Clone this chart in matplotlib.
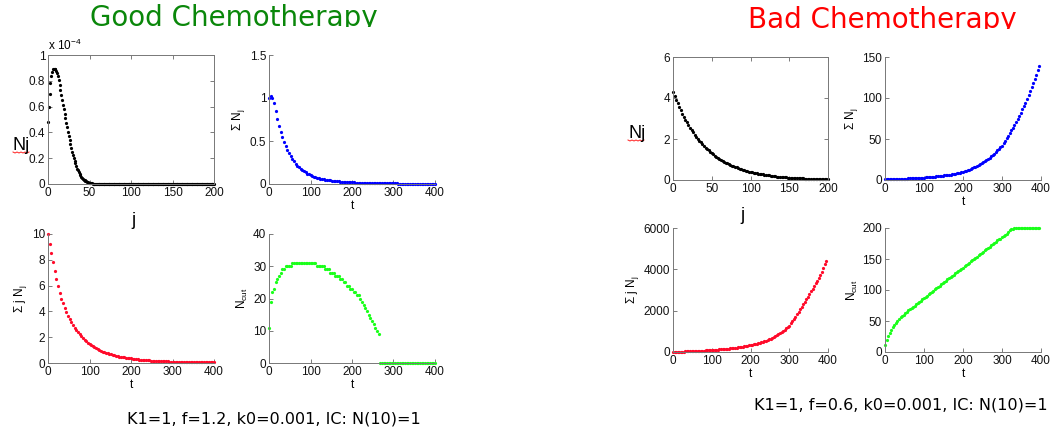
import numpy as np
import matplotlib
matplotlib.use('Agg')
import matplotlib.pyplot as plt
from matplotlib.ticker import FuncFormatter
from matplotlib.lines import Line2D

plt.rcParams['font.family'] = ['Liberation Sans', 'DejaVu Sans']
plt.rcParams['mathtext.fontset'] = 'custom'
plt.rcParams['mathtext.rm'] = 'Liberation Sans'
plt.rcParams['mathtext.it'] = 'Liberation Sans:italic'

# ---------------- data ----------------
dt = 4  # time step between dots

# Good chemotherapy: N_j at final time, units of 1e-4, j = 0, 1, 2, ...
good_nj = [0.48, 0.60, 0.70, 0.78, 0.84, 0.87, 0.89, 0.895, 0.895, 0.89, 0.875,
           0.86, 0.84, 0.81, 0.77, 0.73, 0.69, 0.65, 0.61, 0.58, 0.54,
           0.51, 0.47, 0.44, 0.40, 0.37, 0.34, 0.31, 0.28, 0.25, 0.225,
           0.20, 0.18, 0.16, 0.14, 0.12, 0.105, 0.09, 0.08, 0.068, 0.058,
           0.049, 0.041, 0.034, 0.029, 0.024, 0.02, 0.016, 0.013, 0.011, 0.009,
           0.007, 0.0058, 0.0046, 0.0037, 0.003, 0.0024, 0.0019, 0.0015, 0.0012, 0.001,
           0.0008, 0.0006, 0.0005, 0.0004, 0.0003] + [0.0] * 135

good_sum_n = [1.00, 1.02, 1.00, 0.94, 0.85, 0.76, 0.68, 0.61, 0.545, 0.49,
              0.44, 0.395, 0.355, 0.32, 0.29, 0.262, 0.237, 0.215, 0.195, 0.177,
              0.161, 0.147, 0.134, 0.122, 0.112, 0.103, 0.095, 0.087, 0.08, 0.074,
              0.068, 0.063, 0.058, 0.054, 0.050, 0.047, 0.044, 0.041, 0.038, 0.036,
              0.034, 0.032, 0.030, 0.028, 0.027, 0.025, 0.024, 0.023, 0.021, 0.020,
              0.019, 0.018, 0.017, 0.016, 0.016, 0.015, 0.014, 0.014, 0.013, 0.012,
              0.012, 0.011, 0.011, 0.010, 0.010, 0.009, 0.009, 0.009, 0.008, 0.008,
              0.008, 0.007, 0.007, 0.007, 0.006, 0.006, 0.006, 0.006, 0.005, 0.005,
              0.005, 0.005, 0.005, 0.004, 0.004, 0.004, 0.004, 0.004, 0.004, 0.003,
              0.003, 0.003, 0.003, 0.003, 0.003, 0.003, 0.003, 0.002, 0.002, 0.002,
              0.002]

good_sum_jn = [10.0, 9.25, 8.5, 7.8, 7.1, 6.5, 5.95, 5.45, 5.0, 4.62,
               4.26, 3.95, 3.67, 3.41, 3.17, 2.95, 2.75, 2.56, 2.39, 2.23,
               2.08, 1.94, 1.81, 1.69, 1.58, 1.48, 1.39, 1.30, 1.22, 1.14,
               1.07, 1.01, 0.95, 0.89, 0.84, 0.79, 0.75, 0.70, 0.66, 0.63,
               0.59, 0.56, 0.53, 0.50, 0.47, 0.45, 0.43, 0.40, 0.38, 0.36,
               0.35, 0.33, 0.31, 0.30, 0.28, 0.27, 0.26, 0.24, 0.23, 0.22,
               0.21, 0.20, 0.19, 0.18, 0.175, 0.167, 0.16, 0.15, 0.145, 0.14,
               0.13, 0.125, 0.12, 0.115, 0.11, 0.105, 0.10, 0.097, 0.093, 0.09,
               0.087, 0.084, 0.081, 0.078, 0.075, 0.072, 0.07, 0.068, 0.066, 0.064,
               0.062, 0.06, 0.058, 0.056, 0.054, 0.053, 0.051, 0.05, 0.048, 0.047,
               0.046]

good_ncut = [11, 19, 22, 23, 25, 26, 27, 28, 29, 29, 30, 30, 30, 30,
             31, 31, 31, 31, 31, 31, 31, 31, 31, 31, 31, 31, 31, 31, 31,
             30, 30, 30, 30, 30, 29, 29, 29, 28, 28, 28, 27, 27, 27,
             26, 26, 25, 25, 24, 24, 23, 23, 22, 22, 21, 21,
             20, 19, 18, 17, 16, 15, 14, 13, 12, 11, 10, 9] + [0] * 34

# Bad chemotherapy: N_j at final time, j = 0, 2, 4, ...
bad_nj = [4.3, 4.1, 3.92, 3.74, 3.56, 3.40, 3.24, 3.09, 2.95, 2.81,
          2.68, 2.56, 2.44, 2.32, 2.21, 2.11, 2.01, 1.92, 1.83, 1.74,
          1.66, 1.58, 1.51, 1.44, 1.37, 1.31, 1.25, 1.19, 1.13, 1.08,
          1.03, 0.98, 0.94, 0.89, 0.85, 0.81, 0.77, 0.74, 0.70, 0.67,
          0.64, 0.61, 0.58, 0.55, 0.53, 0.50, 0.48, 0.46, 0.43, 0.41,
          0.39, 0.375, 0.36, 0.34, 0.325, 0.31, 0.295, 0.28, 0.27, 0.255,
          0.245, 0.235, 0.22, 0.21, 0.20, 0.19, 0.18, 0.17, 0.165, 0.155,
          0.15, 0.14, 0.135, 0.13, 0.12, 0.115, 0.11, 0.105, 0.10, 0.095,
          0.09, 0.086, 0.082, 0.078, 0.074, 0.07, 0.067, 0.064, 0.061, 0.058,
          0.055, 0.052, 0.05, 0.047, 0.045, 0.043, 0.041, 0.039, 0.037, 0.035,
          0.033]

bad_sum_n = [1.00, 1.04, 1.08, 1.12, 1.16, 1.20, 1.26, 1.32, 1.38, 1.44,
             1.50, 1.58, 1.66, 1.74, 1.82, 1.90, 2.00, 2.10, 2.20, 2.30,
             2.40, 2.52, 2.64, 2.76, 2.88, 3.00, 3.15, 3.30, 3.46, 3.63,
             3.80, 3.99, 4.18, 4.38, 4.59, 4.80, 5.03, 5.26, 5.50, 5.75,
             6.00, 6.32, 6.65, 6.99, 7.34, 7.70, 8.14, 8.59, 9.05, 9.52,
             10.0, 10.7, 11.4, 12.1, 12.8, 13.5, 14.4, 15.3, 16.2, 17.1,
             18.0, 19.2, 20.4, 21.6, 22.8, 24.0, 25.6, 27.2, 28.8, 30.4,
             32.0, 34.0, 36.0, 38.0, 40.0, 42.0, 45.0, 48.0, 51.0, 54.0,
             57.0, 60.4, 63.8, 67.2, 70.6, 74.0, 78.0, 82.0, 86.0, 90.0,
             94.0, 98.8, 103.6, 108.4, 113.2, 118.0, 123.2, 128.4, 133.6, 138.8]

bad_sum_jn = [10, 11.5, 13, 14.5, 16, 18, 20, 22.5, 25, 27.5,
              30, 33, 36, 39, 42, 45, 49.5, 54, 58.5, 63,
              68, 73, 78.5, 84, 89.5, 95, 101, 107, 113, 119,
              125, 132, 139, 146, 153, 160, 169, 178, 187, 196,
              205, 216, 227, 238, 249, 260, 274, 288, 302, 316,
              330, 348, 366, 384, 402, 420, 444, 468, 492, 516,
              540, 576, 612, 648, 684, 720, 766, 812, 858, 904,
              950, 1016, 1082, 1148, 1214, 1280, 1388, 1496, 1604, 1712,
              1820, 1940, 2060, 2180, 2300, 2420, 2548, 2676, 2804, 2932,
              3060, 3192, 3324, 3456, 3588, 3720, 3895, 4070, 4245, 4420]

bad_ncut = [11, 20, 26, 31, 36, 40, 44, 47, 50, 53, 56, 58, 60, 63, 65, 67,
            69, 71, 73, 75, 77, 79, 81, 83, 85, 87,
            89, 91, 93, 95, 97, 99, 101, 103, 105, 107, 109, 111, 113, 115,
            117, 119, 121, 123, 125, 127, 129, 131, 133, 134, 136, 138, 140,
            142, 144, 146, 148, 150, 152, 154, 156, 158, 160, 162, 164, 166,
            168, 170, 172, 174, 176, 178, 180, 182, 183, 185, 187, 189, 191,
            194, 196, 198, 199] + [200] * 17

BLACK, BLUE, RED, GREEN = '#000000', '#0000ff', '#ff0a2a', '#1aff1a'

# ---------------- figure ----------------
W, H = 1052, 434
fig = plt.figure(figsize=(W / 100, H / 100), dpi=100)


def box(x0, y0, x1, y1):
    # pixel box (top-left origin) -> figure fraction rect
    return [x0 / W, 1 - y1 / H, (x1 - x0) / W, (y1 - y0) / H]


fmt = FuncFormatter(lambda v, p: '%g' % v)


def style(ax, xmax, xstep, ymax, ystep, boxed=False, xlabel=None, ylabel=None):
    ax.set_xlim(0, xmax)
    ax.set_ylim(0, ymax)
    ax.set_xticks(np.arange(0, xmax + 1e-9, xstep))
    ax.set_yticks(np.arange(0, ymax + 1e-9, ystep))
    ax.xaxis.set_major_formatter(fmt)
    ax.yaxis.set_major_formatter(fmt)
    ax.tick_params(direction='in', length=3, width=0.6, labelsize=8.5,
                   colors='#666666', labelcolor='#111111', pad=2,
                   top=boxed, right=boxed)
    for s in ax.spines.values():
        s.set_color('#777777')
        s.set_linewidth(0.7)
    if not boxed:
        ax.spines['top'].set_visible(False)
        ax.spines['right'].set_visible(False)
    if xlabel:
        ax.set_xlabel(xlabel, fontsize=8.5, labelpad=1)
    if ylabel:
        ax.set_ylabel(ylabel, fontsize=8.5, labelpad=2)


def dots(ax, x, y, c):
    ax.plot(x, y, linestyle='none', marker='o', ms=2.3, mew=0, color=c, clip_on=False)


# Good chemotherapy panels
ax = fig.add_axes(box(48, 55, 214, 184))
dots(ax, np.arange(len(good_nj)), good_nj, BLACK)
style(ax, 200, 50, 1, 0.2, boxed=True)
ax.text(0, 1.015, r'x 10$^{-4}$', transform=ax.transAxes, fontsize=8.5,
        ha='left', va='bottom')

ax = fig.add_axes(box(269, 55, 435, 184))
dots(ax, np.arange(len(good_sum_n)) * dt, good_sum_n, BLUE)
style(ax, 400, 100, 1.5, 0.5, xlabel='t', ylabel=r'Σ N$_\mathregular{j}$')

ax = fig.add_axes(box(48, 234, 214, 363))
dots(ax, np.arange(len(good_sum_jn)) * dt, good_sum_jn, RED)
style(ax, 400, 100, 10, 2, xlabel='t', ylabel=r'Σ j N$_\mathregular{j}$')

ax = fig.add_axes(box(269, 234, 435, 363))
dots(ax, np.arange(len(good_ncut)) * dt, good_ncut, GREEN)
style(ax, 400, 100, 40, 10, xlabel='t', ylabel=r'N$_\mathregular{cut}$')

# Bad chemotherapy panels
ax = fig.add_axes(box(673, 57, 828, 180))
dots(ax, np.arange(len(bad_nj)) * 2, bad_nj, BLACK)
style(ax, 200, 50, 6, 2, boxed=True)

ax = fig.add_axes(box(885, 57, 1041, 180))
dots(ax, np.arange(len(bad_sum_n)) * dt, bad_sum_n, BLUE)
style(ax, 400, 100, 150, 50, xlabel='t', ylabel=r'Σ N$_\mathregular{j}$')

ax = fig.add_axes(box(673, 228, 828, 352))
dots(ax, np.arange(len(bad_sum_jn)) * dt, bad_sum_jn, RED)
style(ax, 400, 100, 6000, 2000, xlabel='t', ylabel=r'Σ j N$_\mathregular{j}$')

ax = fig.add_axes(box(885, 228, 1041, 352))
dots(ax, np.arange(len(bad_ncut)) * dt, bad_ncut, GREEN)
style(ax, 400, 100, 200, 50, xlabel='t', ylabel=r'N$_\mathregular{cut}$')

# titles, clipped at the bottom like on the slide
for (cut, cx, txt, col) in [(27, 234, 'Good Chemotherapy', '#0a870a'),
                            (29, 882, 'Bad Chemotherapy', '#ff0000')]:
    tax = fig.add_axes(box(0, 0, W, cut))
    tax.set_xlim(0, W)
    tax.set_ylim(cut, 0)
    tax.axis('off')
    tax.text(cx, cut - 0.5, txt, ha='center', va='baseline', fontsize=20,
             color=col, family='DejaVu Sans', clip_on=True)

# big side labels
for (x, y, s) in [(13, 145, 'Nj'), (628, 133, 'Nj')]:
    fig.text(x / W, 1 - y / H, s, fontsize=13, ha='left', va='center')
for (x, y) in [(133, 221), (742, 215)]:
    fig.text(x / W, 1 - y / H, 'j', fontsize=13, ha='center', va='center')

# red spell-check squiggles under "Nj"
for (x0, y0) in [(13, 152), (628, 140)]:
    xs = x0 + np.arange(9) * 2
    ys = y0 + np.array([0, 1, 0, 1, 0, 1, 0, 1, 0])
    fig.add_artist(Line2D(xs / W, 1 - ys / H, color='#ff2020', lw=0.7))

# parameter captions
fig.text(274 / W, 1 - 424 / H, 'K1=1, f=1.2, k0=0.001, IC: N(10)=1',
         ha='center', va='baseline', fontsize=11.5, family='DejaVu Sans')
fig.text(901 / W, 1 - 410 / H, 'K1=1, f=0.6, k0=0.001, IC: N(10)=1',
         ha='center', va='baseline', fontsize=11.5, family='DejaVu Sans')

fig.savefig('out.png', dpi=100)
